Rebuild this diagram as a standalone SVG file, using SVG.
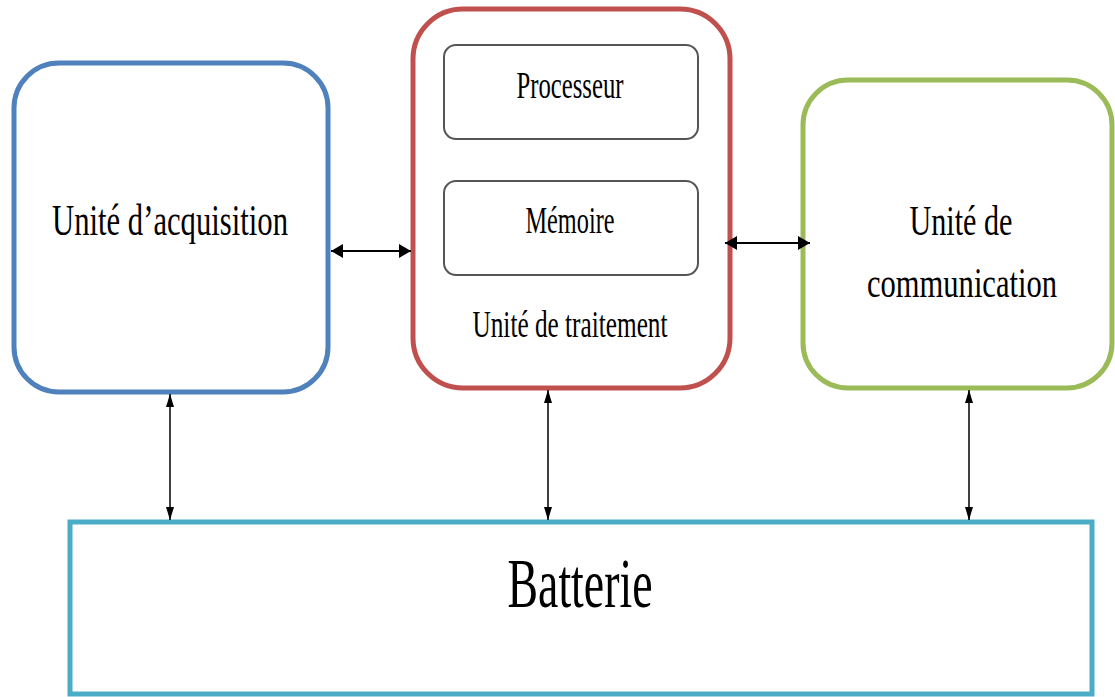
<svg xmlns="http://www.w3.org/2000/svg" width="1115" height="697" viewBox="0 0 1115 697">
<style>
.t{font-family:"Liberation Serif","Times New Roman",serif;fill:#000;text-anchor:middle}
.inner{fill:#fff;stroke:#555;stroke-width:2}
.conn{stroke:#000;fill:none}
</style>
<defs>
<marker id="ah" viewBox="0 0 12 14" refX="12" refY="7" markerWidth="12" markerHeight="14" markerUnits="userSpaceOnUse" orient="auto-start-reverse"><path d="M0,0 L12,7 L0,14 z" fill="#000"/></marker>
<marker id="av" viewBox="0 0 13 8" refX="13" refY="4" markerWidth="13" markerHeight="8" markerUnits="userSpaceOnUse" orient="auto-start-reverse"><path d="M0,0 L13,4 L0,8 z" fill="#000"/></marker>
</defs>
<rect width="1115" height="697" fill="#fff"/>
<g id="acquisition">
<rect x="14" y="63" width="314" height="329" rx="45" ry="45" fill="#fff" stroke="#4f81bd" stroke-width="5"/>
<text class="t" x="170" y="235" font-size="45" textLength="236" lengthAdjust="spacingAndGlyphs">Unité d’acquisition</text>
</g>
<g id="traitement">
<rect x="413" y="9" width="317" height="379" rx="50" ry="50" fill="#fff" stroke="#c0504d" stroke-width="5"/>
<text class="t" x="570" y="337" font-size="38" textLength="195" lengthAdjust="spacingAndGlyphs">Unité de traitement</text>
</g>
<g id="processeur">
<rect class="inner" x="444" y="45" width="254" height="94" rx="12" ry="12"/>
<text class="t" x="570" y="98" font-size="38" textLength="107" lengthAdjust="spacingAndGlyphs">Processeur</text>
</g>
<g id="memoire">
<rect class="inner" x="444" y="181" width="254" height="94" rx="12" ry="12"/>
<text class="t" x="570" y="233" font-size="38" textLength="89" lengthAdjust="spacingAndGlyphs">Mémoire</text>
</g>
<g id="communication">
<rect x="803" y="80" width="309" height="308" rx="45" ry="45" fill="#fff" stroke="#9bbb59" stroke-width="5"/>
<text class="t" x="961" y="235" font-size="42" textLength="103" lengthAdjust="spacingAndGlyphs">Unité de</text>
<text class="t" x="962" y="297" font-size="42" textLength="190" lengthAdjust="spacingAndGlyphs">communication</text>
</g>
<g id="batterie">
<rect x="70" y="522" width="1022" height="172" fill="#fff" stroke="#4bacc6" stroke-width="5"/>
<text class="t" x="580" y="607" font-size="70" textLength="145" lengthAdjust="spacingAndGlyphs">Batterie</text>
</g>
<g id="connectors">
<line class="conn" x1="331" y1="251" x2="411" y2="251" stroke-width="2" marker-start="url(#ah)" marker-end="url(#ah)"/>
<line class="conn" x1="725" y1="243" x2="810" y2="243" stroke-width="2" marker-start="url(#ah)" marker-end="url(#ah)"/>
<line class="conn" x1="170" y1="394" x2="170" y2="520" stroke-width="1.5" marker-start="url(#av)" marker-end="url(#av)"/>
<line class="conn" x1="548" y1="390" x2="548" y2="520" stroke-width="1.5" marker-start="url(#av)" marker-end="url(#av)"/>
<line class="conn" x1="969" y1="390" x2="969" y2="520" stroke-width="1.5" marker-start="url(#av)" marker-end="url(#av)"/>
</g>
</svg>
